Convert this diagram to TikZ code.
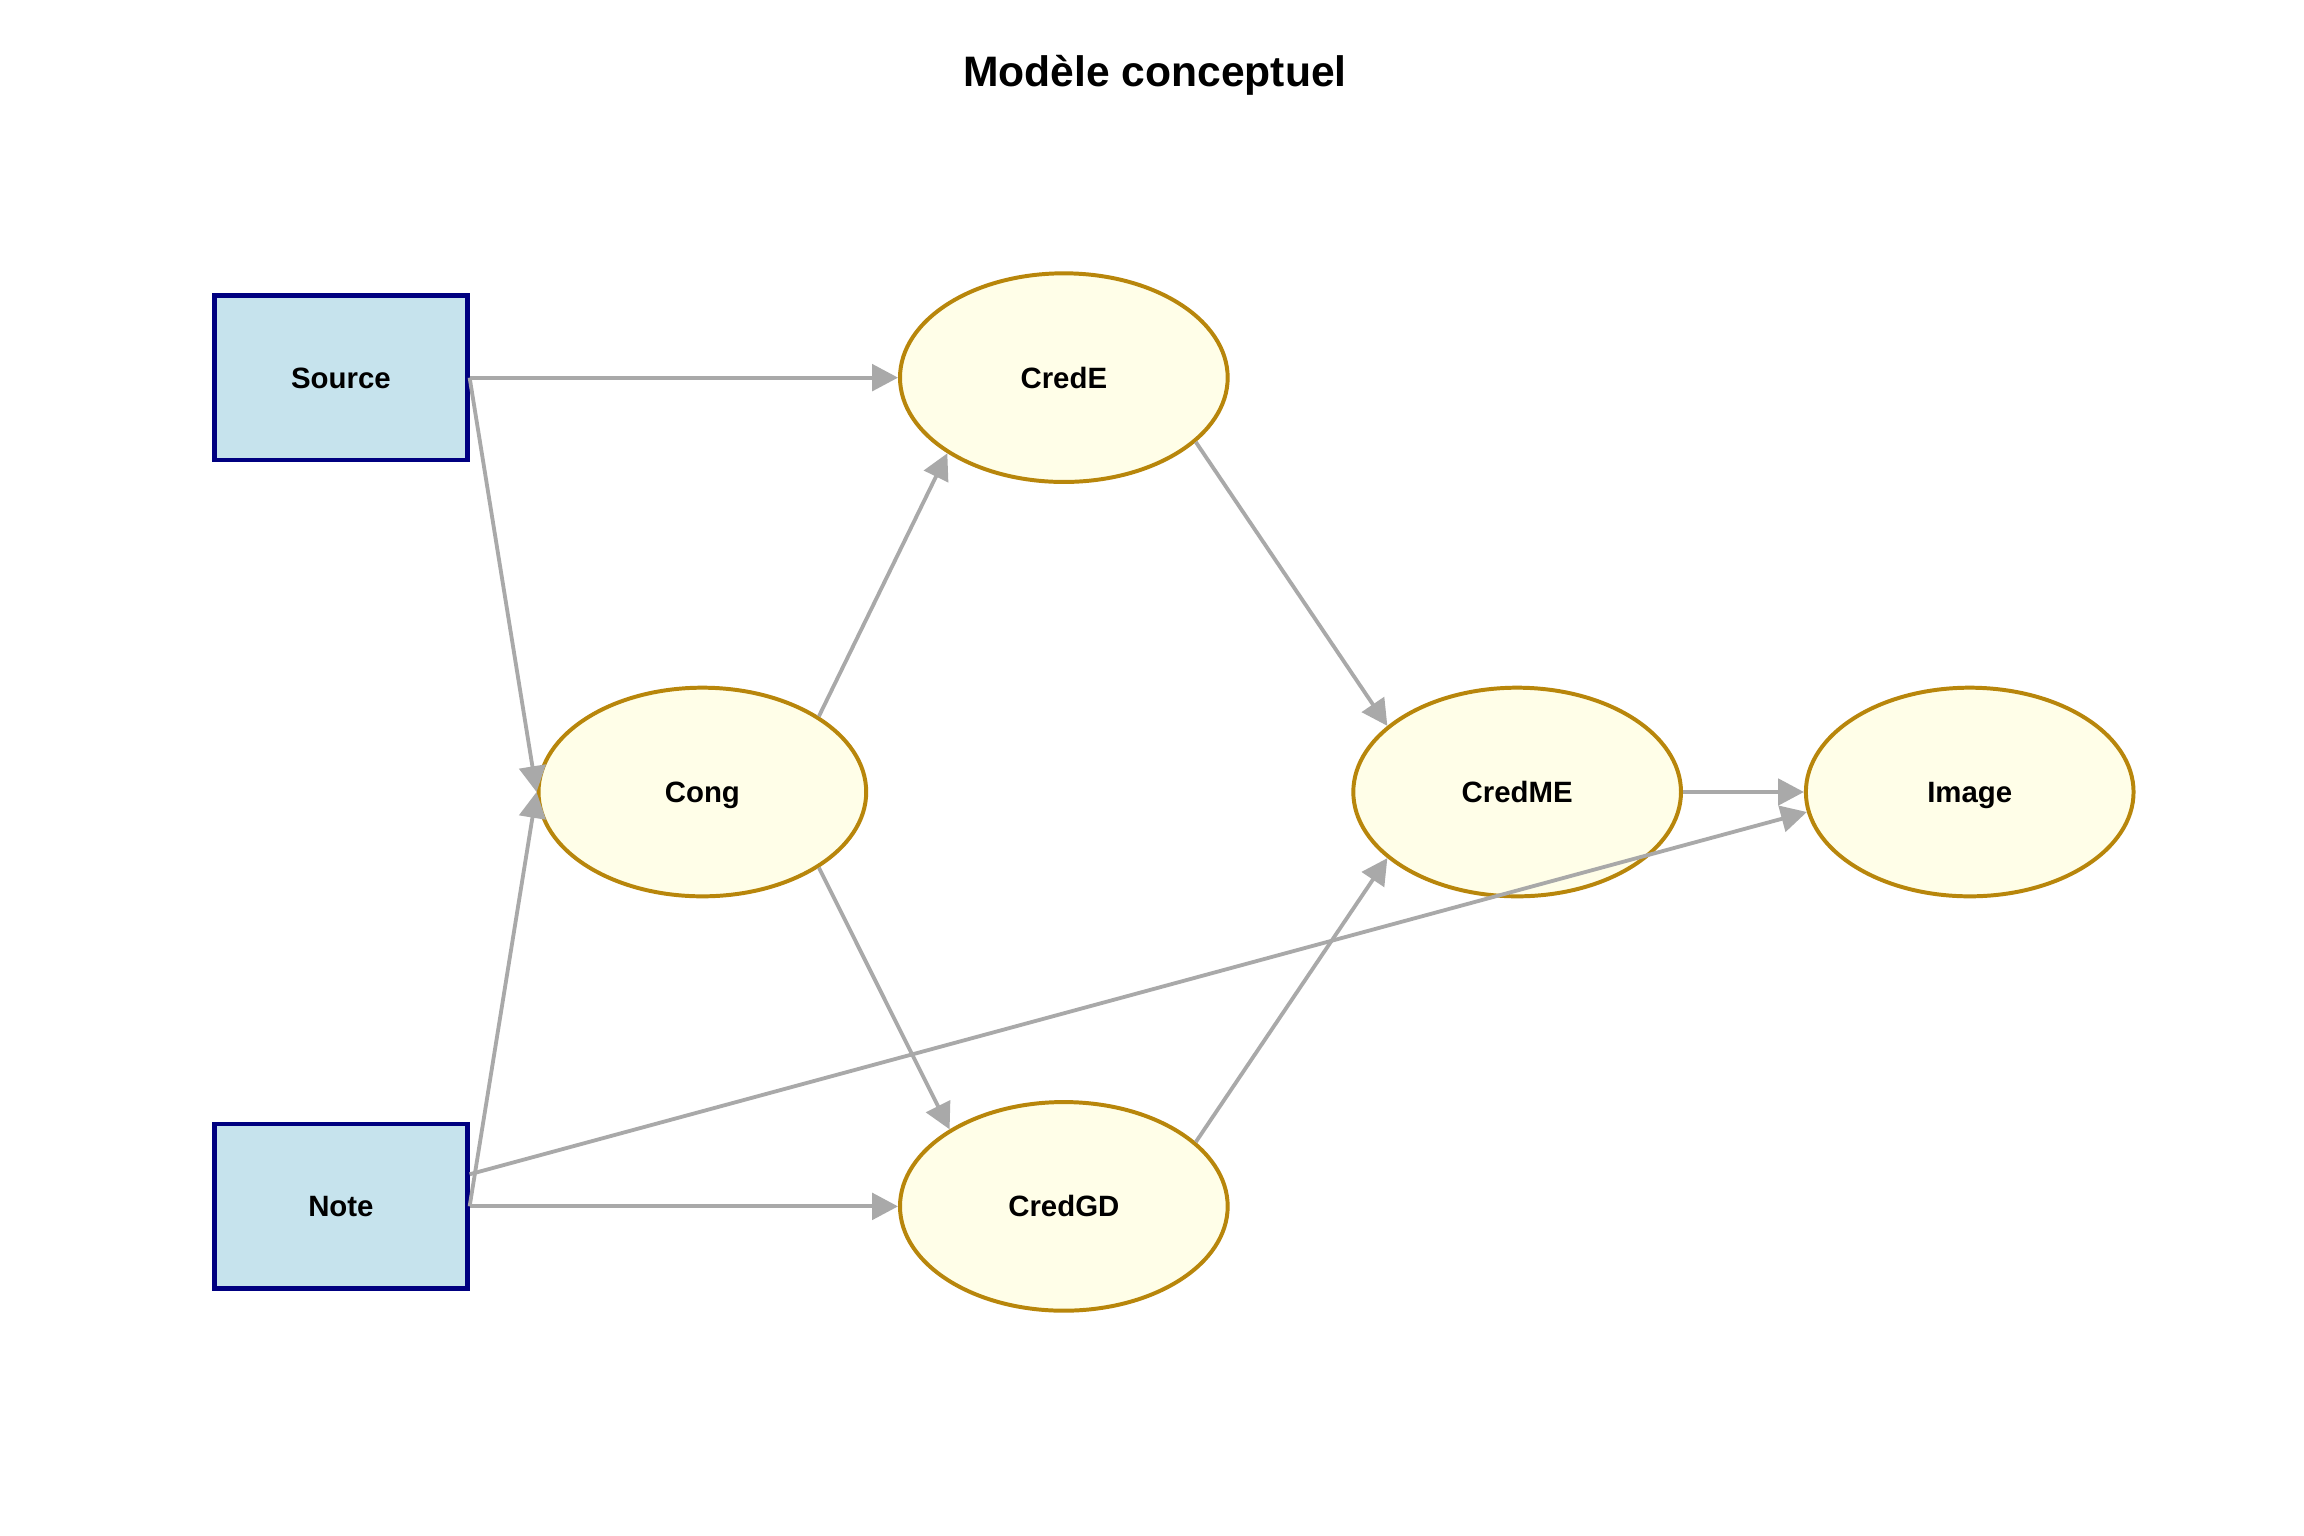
\documentclass[tikz,border=0pt]{standalone}
\usepackage{fontspec}
\setmainfont{Liberation Sans}
\usetikzlibrary{shapes.geometric,arrows.meta}
\definecolor{boxfill}{HTML}{C6E3ED}
\definecolor{boxline}{HTML}{000080}
\definecolor{ellfill}{HTML}{FFFEE8}
\definecolor{ellline}{HTML}{B8860B}
\definecolor{edgegray}{HTML}{A9A9A9}
\tikzset{
  obsbox/.style={rectangle, draw=boxline, fill=boxfill, line width=1.6pt,
    minimum width=86pt, minimum height=56pt, inner sep=0pt,
    font=\fontsize{10}{12}\selectfont\bfseries, text height=7.2pt, text depth=0pt},
  latent/.style={ellipse, draw=ellline, fill=ellfill, line width=1.35pt,
    minimum width=111.5pt, minimum height=71pt, inner sep=0pt,
    font=\fontsize{10}{12}\selectfont\bfseries, text height=7.2pt, text depth=0pt},
  edge/.style={draw=edgegray, line width=1.3pt,
    -{Triangle[length=8.8pt,width=9pt,fill=edgegray]}},
  titlestyle/.style={font=\fontsize{14.5}{17}\selectfont\bfseries, inner sep=0pt}
}
\begin{document}
\begin{tikzpicture}[x=0.5pt,y=-0.5pt]
\useasboundingbox[fill=white] (0,0) rectangle (1568,1045);
\node[titlestyle, anchor=base] (title) at (786,59) {Modèle conceptuel};
\node[obsbox] (source) at (232,257) {Source};
\node[obsbox] (note) at (232,821) {Note};
\node[latent] (cong) at (478,539) {Cong};
\node[latent] (crede) at (724,257) {CredE};
\node[latent] (credgd) at (724,821) {CredGD};
\node[latent] (credme) at (1032.5,539) {CredME};
\node[latent] (image) at (1340.5,539) {Image};
\draw[edge] (source.east) -- (crede.west);
\draw[edge] (source.east) -- (cong.west);
\draw[edge] (note.east) -- (cong.west);
\draw[edge] (note.east) -- (credgd.west);
\draw[edge] (note.14.8) -- (image.187.6);
\draw[edge] (cong.33.4) -- (crede.213.9);
\draw[edge] (cong.-33.4) -- (credgd.146.1);
\draw[edge] (crede.-26.7) -- (credme.153);
\draw[edge] (credgd.26.7) -- (credme.207);
\draw[edge] (credme.east) -- (image.west);
\end{tikzpicture}
\end{document}
